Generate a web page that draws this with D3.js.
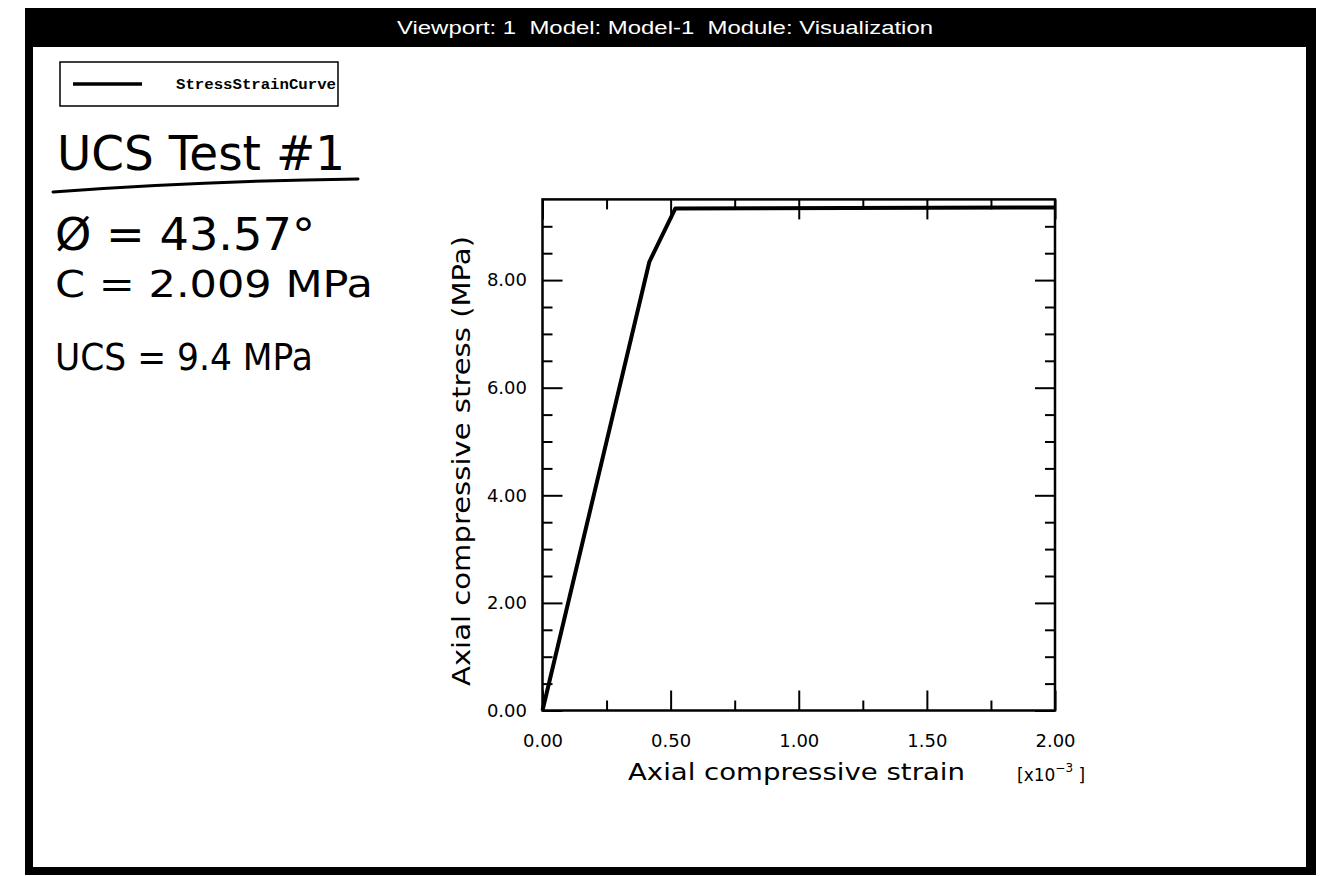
<!DOCTYPE html>
<html>
<head>
<meta charset="utf-8">
<script src="https://cdn.jsdelivr.net/npm/d3@7"></script>
<style>
  html, body { margin: 0; padding: 0; background: #fff; }
  svg { display: block; }
  text { white-space: pre; }
</style>
</head>
<body>
<svg id="chart" width="1321" height="876"></svg>
<script>
// ---- data ----
const strain = [0, 0.417, 0.518, 2.0];          // [x10^-3]
const stress = [0, 8.34, 9.33, 9.35];           // MPa
const xMajorTicks = [0, 0.5, 1.0, 1.5, 2.0];
const xMinorTicks = [0.25, 0.75, 1.25, 1.75];
const yMajorTicks = [0, 2, 4, 6, 8];
const yMinorTicks = [0.5, 1, 1.5, 2.5, 3, 3.5, 4.5, 5, 5.5, 6.5, 7, 7.5, 8.5, 9];
const titleText = "Viewport: 1  Model: Model-1  Module: Visualization";
const legendLabel = "StressStrainCurve";
const xLabel = "Axial compressive strain";
const yLabel = "Axial compressive stress (MPa)";
const notes = ["UCS Test #1", "Ø = 43.57°", "C = 2.009 MPa", "UCS = 9.4 MPa"];

const svg = d3.select("#chart");

// ---- viewport frame ----
svg.append("rect").attr("x", 25).attr("y", 8).attr("width", 1291).attr("height", 867).attr("fill", "#000");
svg.append("rect").attr("x", 33).attr("y", 47).attr("width", 1273).attr("height", 820).attr("fill", "#fff");
svg.append("text").attr("x", 665).attr("y", 34).attr("text-anchor", "middle")
  .attr("fill", "#fff").attr("font-family", "Liberation Sans, Arial, sans-serif").attr("font-size", 18)
  .attr("textLength", 536).attr("lengthAdjust", "spacingAndGlyphs").text(titleText);

// ---- legend ----
svg.append("rect").attr("x", 60).attr("y", 62).attr("width", 278).attr("height", 44)
  .attr("fill", "#fff").attr("stroke", "#000").attr("stroke-width", 1.5);
svg.append("line").attr("x1", 73).attr("x2", 142).attr("y1", 84).attr("y2", 84)
  .attr("stroke", "#000").attr("stroke-width", 3.5);
svg.append("text").attr("x", 176).attr("y", 89)
  .attr("font-family", "Liberation Mono, Courier New, monospace").attr("font-weight", "bold").attr("font-size", 14)
  .attr("textLength", 160).attr("lengthAdjust", "spacingAndGlyphs").text(legendLabel);

// ---- handwritten notes ----
const hw = svg.append("g").attr("font-family", "DejaVu Sans, sans-serif").attr("fill", "#000");
const noteSpec = [
  {x: 57, y: 170, size: 48, len: 288},
  {x: 55, y: 250, size: 44, len: 260},
  {x: 55, y: 297, size: 38, len: 318},
  {x: 55, y: 370, size: 38, len: 258}
];
notes.forEach((t, i) => {
  const s = noteSpec[i];
  hw.append("text").attr("x", s.x).attr("y", s.y).attr("font-size", s.size)
    .attr("textLength", s.len).attr("lengthAdjust", "spacingAndGlyphs").text(t);
});
svg.append("path").attr("d", "M53,192 Q200,181 358,179").attr("fill", "none")
  .attr("stroke", "#000").attr("stroke-width", 3).attr("stroke-linecap", "round");

// ---- plot ----
const x = d3.scaleLinear().domain([0, 2]).range([542.5, 1055]);
const y = d3.scaleLinear().domain([0, 9.5]).range([710.5, 199.4]);
const x0 = x.range()[0], x1 = x.range()[1], y0 = y.range()[0], y1 = y.range()[1];
const tickFont = "DejaVu Sans, sans-serif";

function styleAxis(g) {
  g.attr("font-family", tickFont).attr("font-size", 18);
  g.select(".domain").remove();
  g.selectAll(".tick line").attr("stroke", "#000").attr("stroke-width", 2);
  g.selectAll(".tick text").attr("fill", "#000");
}

// bottom
svg.append("g").attr("transform", `translate(0,${y0})`)
  .call(d3.axisBottom(x).tickValues(xMajorTicks).tickSize(-20).tickPadding(24).tickFormat(d3.format(".2f")))
  .call(styleAxis);
svg.append("g").attr("transform", `translate(0,${y0})`)
  .call(d3.axisBottom(x).tickValues(xMinorTicks).tickSize(-10).tickFormat(""))
  .call(styleAxis);
// top
svg.append("g").attr("transform", `translate(0,${y1})`)
  .call(d3.axisTop(x).tickValues(xMajorTicks).tickSize(-20).tickFormat(""))
  .call(styleAxis);
svg.append("g").attr("transform", `translate(0,${y1})`)
  .call(d3.axisTop(x).tickValues(xMinorTicks).tickSize(-10).tickFormat(""))
  .call(styleAxis);
// left
svg.append("g").attr("transform", `translate(${x0},0)`)
  .call(d3.axisLeft(y).tickValues(yMajorTicks).tickSize(-20).tickPadding(15.5).tickFormat(d3.format(".2f")))
  .call(styleAxis);
svg.append("g").attr("transform", `translate(${x0},0)`)
  .call(d3.axisLeft(y).tickValues(yMinorTicks).tickSize(-10).tickFormat(""))
  .call(styleAxis);
// right
svg.append("g").attr("transform", `translate(${x1},0)`)
  .call(d3.axisRight(y).tickValues(yMajorTicks).tickSize(-20).tickFormat(""))
  .call(styleAxis);
svg.append("g").attr("transform", `translate(${x1},0)`)
  .call(d3.axisRight(y).tickValues(yMinorTicks).tickSize(-10).tickFormat(""))
  .call(styleAxis);

// frame
svg.append("rect").attr("x", x0).attr("y", y1).attr("width", x1 - x0).attr("height", y0 - y1)
  .attr("fill", "none").attr("stroke", "#000").attr("stroke-width", 2.5);

// curve
const pts = strain.map((s, i) => [s, stress[i]]);
svg.append("path").datum(pts)
  .attr("d", d3.line().x(d => x(d[0])).y(d => y(d[1])))
  .attr("fill", "none").attr("stroke", "#000").attr("stroke-width", 4).attr("stroke-linejoin", "round");

// axis titles
svg.append("text").attr("x", 628).attr("y", 780)
  .attr("font-family", tickFont).attr("font-size", 23)
  .attr("textLength", 337).attr("lengthAdjust", "spacingAndGlyphs").text(xLabel);
svg.append("text").attr("transform", "translate(470,686) rotate(-90)")
  .attr("font-family", tickFont).attr("font-size", 24)
  .attr("textLength", 450).attr("lengthAdjust", "spacingAndGlyphs").text(yLabel);

// units
const u = svg.append("text").attr("x", 1017).attr("y", 781)
  .attr("font-family", tickFont).attr("font-size", 17);
u.append("tspan").text("[x10");
u.append("tspan").attr("dy", -9).attr("font-size", 12).text("−3");
u.append("tspan").attr("dy", 9).text(" ]");
</script>
</body>
</html>
